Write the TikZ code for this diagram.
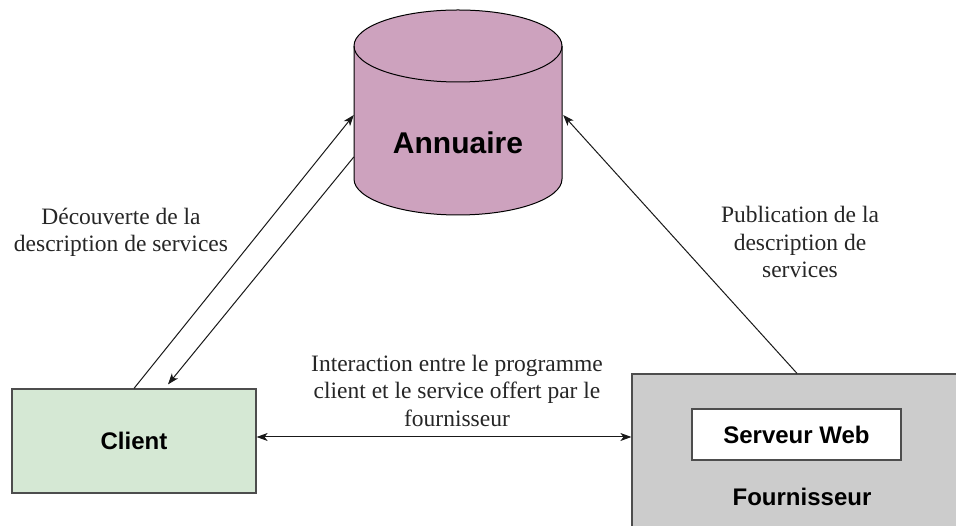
\documentclass[tikz,border=0pt]{standalone}
\usepackage{fontspec}
\setmainfont{Liberation Serif}
\setsansfont{Liberation Sans}
\usetikzlibrary{arrows.meta}
\definecolor{cylfill}{HTML}{CDA2BE}
\definecolor{clifill}{HTML}{D5E8D4}
\definecolor{foufill}{HTML}{CCCCCC}
\definecolor{edge}{HTML}{4D4D4D}
\tikzset{
  boxbase/.style={draw=edge, line width=1.2pt, inner sep=0pt},
  clientbox/.style={boxbase, fill=clifill, minimum width=244pt, minimum height=104pt,
    font=\sffamily\bfseries\fontsize{24}{28}\selectfont},
  fourbox/.style={boxbase, fill=foufill, minimum width=330pt, minimum height=160pt},
  webbox/.style={boxbase, fill=white, minimum width=209pt, minimum height=51pt,
    font=\sffamily\bfseries\fontsize{24}{28}\selectfont},
  boldlbl/.style={font=\sffamily\bfseries\fontsize{24}{28}\selectfont, inner sep=0pt},
  annlbl/.style={font=\sffamily\bfseries\fontsize{30}{36}\selectfont, inner sep=0pt,
    minimum width=208pt},
  desc/.style={align=center, inner sep=0pt, font=\rmfamily\fontsize{23.5}{27.5}\selectfont,
    text=black!85},
  conn/.style={draw=black!90, line width=1pt},
  tip/.style={-{Stealth[length=11pt,width=8pt,inset=3pt]}},
  dtip/.style={{Stealth[length=11pt,width=8pt,inset=3pt]}-{Stealth[length=11pt,width=8pt,inset=3pt]}},
}
\begin{document}
\begin{tikzpicture}[x=1pt,y=1pt]
\useasboundingbox (0,0) rectangle (956,526);
\fill[white] (0,0) rectangle (956,526);
% cylinder (Annuaire)
\filldraw[fill=cylfill, draw=black, line width=1pt]
  (354,480) -- (354,347) arc[start angle=180, end angle=360, x radius=104pt, y radius=36pt]
  -- (562,480) arc[start angle=0, end angle=180, x radius=104pt, y radius=36pt] -- cycle;
\draw[black, line width=1pt] (354,480) arc[start angle=180, end angle=360, x radius=104pt, y radius=36pt];
\node[annlbl] (ann) at (458,383) {Annuaire};
% Client
\node[clientbox] (client) at (134,85) {Client};
% Fournisseur
\begin{scope}
\clip (0,0) rectangle (956,526);
\node[fourbox] (four) at (797,72) {};
\end{scope}
\node[webbox] (web) at (796.5,91.5) {Serveur Web};
\node[boldlbl] (fourlbl) at (802,29) {Fournisseur};
% labels
\node[desc] (decouv) at (121,293.5) {Découverte de la\\description de services};
\node[desc] (pub) at (800,284) {Publication de la\\description de\\services};
\node[desc] (inter) at (457,135.5) {Interaction entre le programme\\client et le service offert par le\\fournisseur};
% connectors
\draw[conn, tip] (client.north) -- ([yshift=28pt]ann.west);
\draw[conn, tip] ([yshift=-14pt]ann.west) -- ([xshift=34pt,yshift=4pt]client.north);
\draw[conn, tip] (four.north) -- ([xshift=1pt,yshift=28pt]ann.east);
\draw[conn, dtip] ([yshift=4pt]client.east) -- ([yshift=17pt]four.west);
\end{tikzpicture}
\end{document}
